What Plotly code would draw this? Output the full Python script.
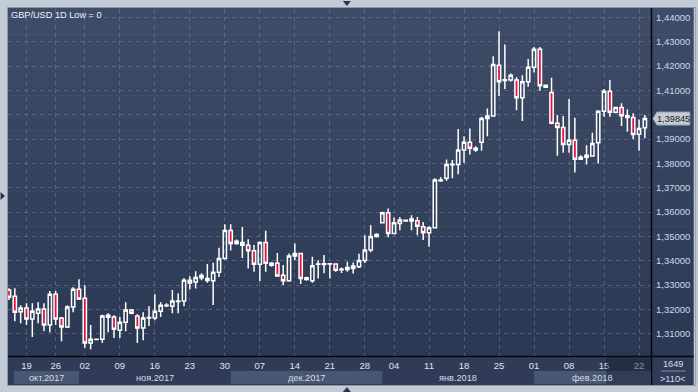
import plotly.graph_objects as go
import pandas as pd

# ---------------- data ----------------
# trading days shown (Mon-Fri until DST switch, then Sun-Fri; no 1 Jan candle)
_days = pd.date_range("2017-10-16", "2018-02-23", freq="D")
dates = [d.strftime("%Y-%m-%d") for d in _days
         if (d.weekday() < 5 or (d.weekday() == 6 and d >= pd.Timestamp("2017-11-05")))
         and d != pd.Timestamp("2018-01-01")]

opens = [1.3279, 1.3254, 1.3190, 1.3205, 1.3160, 1.3184, 1.3201, 1.3135, 1.3262, 1.3164,
         1.3127, 1.3209, 1.3283, 1.3246, 1.3061, 1.3076, 1.3077, 1.3176, 1.3168, 1.3114,
         1.3147, 1.3197, 1.3172, 1.3123, 1.3164, 1.3164, 1.3192, 1.3215, 1.3213, 1.3232,
         1.3234, 1.3320, 1.3312, 1.3330, 1.3327, 1.3317, 1.3352, 1.3409, 1.3524, 1.3471,
         1.3475, 1.3463, 1.3441, 1.3385, 1.3475, 1.3389, 1.3389, 1.3340, 1.3317, 1.3419,
         1.3430, 1.3323, 1.3317, 1.3385, 1.3384, 1.3386, 1.3386, 1.3363, 1.3364, 1.3368,
         1.3375, 1.3401, 1.3444, 1.3499, 1.3556, 1.3597, 1.3512, 1.3553, 1.3563, 1.3563,
         1.3564, 1.3540, 1.3515, 1.3535, 1.3729, 1.3739, 1.3795, 1.3796, 1.3855, 1.3887,
         1.3862, 1.3887, 1.3985, 1.3995, 1.4204, 1.4141, 1.4143, 1.4143, 1.4070, 1.4136,
         1.4195, 1.4269, 1.4121, 1.4092, 1.3965, 1.3948, 1.3878, 1.3895, 1.3825, 1.3825,
         1.3830, 1.3885, 1.4015, 1.4097, 1.4010, 1.4030, 1.3996, 1.3989, 1.3920, 1.3947]
highs = [1.3287, 1.3287, 1.3217, 1.3225, 1.3225, 1.3229, 1.3225, 1.3275, 1.3275, 1.3168,
         1.3217, 1.3291, 1.3324, 1.3299, 1.3135, 1.3079, 1.3178, 1.3184, 1.3176, 1.3168,
         1.3229, 1.3201, 1.3180, 1.3188, 1.3213, 1.3262, 1.3229, 1.3225, 1.3279, 1.3266,
         1.3328, 1.3336, 1.3357, 1.3348, 1.3386, 1.3391, 1.3453, 1.3550, 1.3550, 1.3487,
         1.3539, 1.3488, 1.3464, 1.3479, 1.3523, 1.3395, 1.3432, 1.3382, 1.3430, 1.3471,
         1.3432, 1.3334, 1.3416, 1.3402, 1.3423, 1.3389, 1.3389, 1.3372, 1.3396, 1.3392,
         1.3429, 1.3505, 1.3546, 1.3513, 1.3601, 1.3615, 1.3578, 1.3580, 1.3569, 1.3587,
         1.3580, 1.3559, 1.3542, 1.3739, 1.3743, 1.3816, 1.3814, 1.3941, 1.3912, 1.3944,
         1.3871, 1.3992, 1.4026, 1.4241, 1.4344, 1.4289, 1.4170, 1.4154, 1.4163, 1.4229,
         1.4279, 1.4279, 1.4122, 1.4152, 1.3999, 1.3995, 1.4065, 1.3988, 1.3834, 1.3875,
         1.3926, 1.4019, 1.4106, 1.4143, 1.4033, 1.4047, 1.4022, 1.4006, 1.3981, 1.3999]
lows = [1.3238, 1.3151, 1.3143, 1.3135, 1.3086, 1.3143, 1.3110, 1.3106, 1.3135, 1.3069,
        1.3123, 1.3188, 1.3238, 1.3042, 1.3036, 1.3073, 1.3061, 1.3106, 1.3082, 1.3082,
        1.3110, 1.3180, 1.3061, 1.3073, 1.3131, 1.3155, 1.3168, 1.3209, 1.3184, 1.3184,
        1.3213, 1.3283, 1.3286, 1.3320, 1.3309, 1.3218, 1.3333, 1.3405, 1.3442, 1.3465,
        1.3411, 1.3368, 1.3354, 1.3316, 1.3354, 1.3375, 1.3334, 1.3300, 1.3313, 1.3402,
        1.3304, 1.3317, 1.3309, 1.3327, 1.3348, 1.3327, 1.3354, 1.3349, 1.3354, 1.3347,
        1.3370, 1.3390, 1.3435, 1.3495, 1.3553, 1.3496, 1.3509, 1.3525, 1.3560, 1.3525,
        1.3505, 1.3485, 1.3457, 1.3532, 1.3725, 1.3729, 1.3739, 1.3755, 1.3803, 1.3837,
        1.3848, 1.3852, 1.3912, 1.3992, 1.4077, 1.4106, 1.4136, 1.4019, 1.3974, 1.4115,
        1.4174, 1.4099, 1.4112, 1.3961, 1.3831, 1.3844, 1.3844, 1.3763, 1.3815, 1.3796,
        1.3827, 1.3800, 1.3992, 1.3992, 1.4006, 1.3954, 1.3930, 1.3900, 1.3852, 1.3903]
closes = [1.3250, 1.3188, 1.3205, 1.3160, 1.3192, 1.3201, 1.3135, 1.3262, 1.3160, 1.3127,
          1.3209, 1.3283, 1.3242, 1.3061, 1.3077, 1.3077, 1.3172, 1.3167, 1.3118, 1.3147,
          1.3197, 1.3184, 1.3123, 1.3164, 1.3166, 1.3192, 1.3217, 1.3217, 1.3234, 1.3234,
          1.3320, 1.3308, 1.3331, 1.3339, 1.3318, 1.3352, 1.3409, 1.3524, 1.3471, 1.3480,
          1.3463, 1.3441, 1.3385, 1.3475, 1.3389, 1.3381, 1.3337, 1.3317, 1.3419, 1.3430,
          1.3327, 1.3330, 1.3379, 1.3386, 1.3387, 1.3387, 1.3361, 1.3365, 1.3372, 1.3378,
          1.3401, 1.3444, 1.3499, 1.3508, 1.3597, 1.3512, 1.3556, 1.3567, 1.3566, 1.3571,
          1.3542, 1.3515, 1.3535, 1.3732, 1.3732, 1.3796, 1.3797, 1.3855, 1.3887, 1.3862,
          1.3855, 1.3985, 1.3995, 1.4207, 1.4136, 1.4144, 1.4163, 1.4070, 1.4136, 1.4195,
          1.4269, 1.4119, 1.4113, 1.3965, 1.3948, 1.3878, 1.3895, 1.3817, 1.3817, 1.3834,
          1.3882, 1.4015, 1.4097, 1.4010, 1.4030, 1.3996, 1.3989, 1.3919, 1.3944, 1.39845]

tick_dates = ["2017-10-19", "2017-10-26", "2017-11-02", "2017-11-09", "2017-11-16",
              "2017-11-23", "2017-11-30", "2017-12-07", "2017-12-14", "2017-12-21",
              "2017-12-28", "2018-01-04", "2018-01-11", "2018-01-18", "2018-01-25",
              "2018-02-01", "2018-02-08", "2018-02-15", "2018-02-22"]
tick_labels = [d[-2:] for d in tick_dates]
month_labels = ["окт.2017", "ноя.2017", "дек.2017", "янв.2018", "фев.2018"]
price_ticks = [1.31, 1.32, 1.33, 1.34, 1.35, 1.36, 1.37, 1.38, 1.39, 1.40, 1.41, 1.42, 1.43, 1.44]
price_tick_text = [f"{v:.5f}".replace(".", ",") for v in price_ticks]
title_text = "GBP/USD 1D Low = 0"
last_price = closes[-1]
bars_total = "1649"
bars_visible = ">110<"

# ---------------- geometry ----------------
W, H = 698, 392
L, R, T, B = 8, 43, 9, 36
PW, PH = W - L - R, H - T - B
XR = [-0.17, 110.05]
YR = [1.3008, 1.4435]
FONT = "Liberation Sans, Arial, sans-serif"
FS = 9.2

def pxx(x):  # pixel x -> paper
    return (x - L) / PW

def pxy(y):  # pixel y -> paper
    return (H - B - y) / PH

def idx_px(i):
    return L + (i - XR[0]) / (XR[1] - XR[0]) * PW

def val_py(v):
    return T + (YR[1] - v) / (YR[1] - YR[0]) * PH

shapes = []
# dark chart area with vertical gradient
top_c = (63, 76, 103)
bot_c = (43, 56, 84)
N = 40
y_top, y_bot = 8, 357
for k in range(N):
    f = k / (N - 1)
    c = tuple(int(round(top_c[j] + (bot_c[j] - top_c[j]) * f)) for j in range(3))
    ya = y_top + (y_bot - y_top) * k / N
    yb = y_top + (y_bot - y_top) * (k + 1) / N + 0.6
    shapes.append(dict(type="rect", xref="paper", yref="paper", layer="below",
                       x0=pxx(8), x1=pxx(W), y0=pxy(yb), y1=pxy(ya),
                       fillcolor=f"rgb{c}", line=dict(width=0)))
# bottom axis area
shapes.append(dict(type="rect", xref="paper", yref="paper", layer="below",
                   x0=pxx(8), x1=pxx(W), y0=pxy(385), y1=pxy(356),
                   fillcolor="#303c57", line=dict(width=0)))
# month bands
first_idx = {}
for i, d in enumerate(dates):
    first_idx.setdefault(d[:7], i)
bounds = [14, idx_px(first_idx["2017-11"]), idx_px(first_idx["2017-12"]),
          idx_px(first_idx["2018-01"]), idx_px(first_idx["2018-02"]), 655]
annotations = []
for m in range(5):
    if m % 2 == 0:
        shapes.append(dict(type="rect", xref="paper", yref="paper", layer="below",
                           x0=pxx(bounds[m]), x1=pxx(bounds[m + 1]), y0=pxy(384), y1=pxy(371),
                           fillcolor="#485671", line=dict(width=0)))
    annotations.append(dict(xref="paper", yref="paper", x=pxx((bounds[m] + bounds[m + 1]) / 2),
                            y=pxy(378), text=month_labels[m], showarrow=False,
                            xanchor="center", yanchor="middle",
                            font=dict(size=FS, color="#d5dce8", family=FONT)))
# darker overlay on bottom right of time axis
shapes.append(dict(type="rect", xref="paper", yref="paper", layer="above",
                   x0=pxx(610), x1=pxx(654), y0=pxy(384), y1=pxy(357.5),
                   fillcolor="rgba(22,30,48,0.45)", line=dict(width=0)))
# black axis lines
shapes.append(dict(type="line", xref="paper", yref="paper", layer="above",
                   x0=pxx(8), x1=pxx(W), y0=pxy(356.5), y1=pxy(356.5),
                   line=dict(color="#05070c", width=1.5)))
shapes.append(dict(type="line", xref="paper", yref="paper", layer="above",
                   x0=pxx(655.5), x1=pxx(655.5), y0=pxy(385), y1=pxy(8),
                   line=dict(color="#05070c", width=1.5)))
# frame edge line
shapes.append(dict(type="rect", xref="paper", yref="paper", layer="above",
                   x0=pxx(7.5), x1=pxx(W + 2), y0=pxy(385.5), y1=pxy(7.5),
                   line=dict(color="#8c97a8", width=1), fillcolor="rgba(0,0,0,0)"))
# underline between 1649 and >110<
shapes.append(dict(type="line", xref="paper", yref="paper", layer="above",
                   x0=pxx(665), x1=pxx(690), y0=pxy(371), y1=pxy(371),
                   line=dict(color="#7e8aa0", width=1)))
# small navigation triangles on the frame
tri_col = "#2a3446"
shapes += [
    dict(type="path", xref="paper", yref="paper", layer="above",
         path=f"M {pxx(345)},{pxy(1)} L {pxx(353)},{pxy(1)} L {pxx(349)},{pxy(6)} Z",
         fillcolor=tri_col, line=dict(width=0)),
    dict(type="path", xref="paper", yref="paper", layer="above",
         path=f"M {pxx(345)},{pxy(392)} L {pxx(353)},{pxy(392)} L {pxx(349)},{pxy(387)} Z",
         fillcolor=tri_col, line=dict(width=0)),
    dict(type="path", xref="paper", yref="paper", layer="above",
         path=f"M {pxx(0.5)},{pxy(192)} L {pxx(0.5)},{pxy(200)} L {pxx(5)},{pxy(196)} Z",
         fillcolor=tri_col, line=dict(width=0)),
]

# last price tag
yp = val_py(last_price)
shapes.append(dict(type="path", xref="paper", yref="paper", layer="above",
                   path=(f"M {pxx(657)},{pxy(yp)} L {pxx(661)},{pxy(yp - 6.5)} "
                         f"L {pxx(694)},{pxy(yp - 6.5)} L {pxx(694)},{pxy(yp + 6.5)} "
                         f"L {pxx(661)},{pxy(yp + 6.5)} Z"),
                   fillcolor="#c6cad1", line=dict(color="#9aa2ae", width=1)))
annotations.append(dict(xref="paper", yref="paper", x=pxx(677.5), y=pxy(yp),
                        text=f"{last_price:.5f}".replace(".", ","), showarrow=False,
                        xanchor="center", yanchor="middle",
                        font=dict(size=FS, color="#18202e", family=FONT)))

annotations += [
    dict(xref="paper", yref="paper", x=pxx(9), y=pxy(15), text=title_text, showarrow=False,
         xanchor="left", yanchor="middle",
         font=dict(size=FS, color="#eef2f8", family=FONT)),
    dict(xref="paper", yref="paper", x=pxx(677), y=pxy(364), text=bars_total, showarrow=False,
         xanchor="center", yanchor="middle",
         font=dict(size=FS, color="#d5dce8", family=FONT)),
    dict(xref="paper", yref="paper", x=pxx(677), y=pxy(379),
         text=bars_visible.replace("<", "&lt;").replace(">", "&gt;"),
         showarrow=False, xanchor="center", yanchor="middle",
         font=dict(size=FS, color="#d5dce8", family=FONT)),
]

fig = go.Figure(go.Candlestick(
    x=dates, open=opens, high=highs, low=lows, close=closes,
    increasing=dict(line=dict(color="#ffffff", width=1.5), fillcolor="rgba(0,0,0,0)"),
    decreasing=dict(line=dict(color="#ffffff", width=1.5), fillcolor="#e8103c"),
    whiskerwidth=0, hoverinfo="skip", showlegend=False,
))

fig.update_layout(
    width=W, height=H,
    margin=dict(l=L, r=R, t=T, b=B, pad=0),
    paper_bgcolor="#c3cbd7",
    plot_bgcolor="rgba(0,0,0,0)",
    boxgap=0.2,
    showlegend=False,
    shapes=shapes,
    annotations=annotations,
    xaxis=dict(type="category", range=XR, rangeslider=dict(visible=False),
               tickmode="array", tickvals=tick_dates, ticktext=tick_labels,
               showgrid=True, gridcolor="rgba(112,128,158,0.55)", griddash="4px,4px", gridwidth=1,
               ticks="", showline=False, zeroline=False, ticklabelstandoff=2,
               tickfont=dict(size=FS + 0.3, color="#dfe5ee", family=FONT)),
    yaxis=dict(range=YR, side="right", tickmode="array", tickvals=price_ticks,
               ticktext=price_tick_text, showgrid=True,
               gridcolor="rgba(112,128,158,0.55)", griddash="4px,4px", gridwidth=1,
               ticks="", showline=False, zeroline=False, ticklabelstandoff=4,
               tickfont=dict(size=FS + 0.3, color="#cdd8ea", family=FONT)),
)

fig.write_html("out.html", config={"displayModeBar": False},
               post_script="document.body.style.margin='0px';"
                           "document.body.style.overflow='hidden';")
